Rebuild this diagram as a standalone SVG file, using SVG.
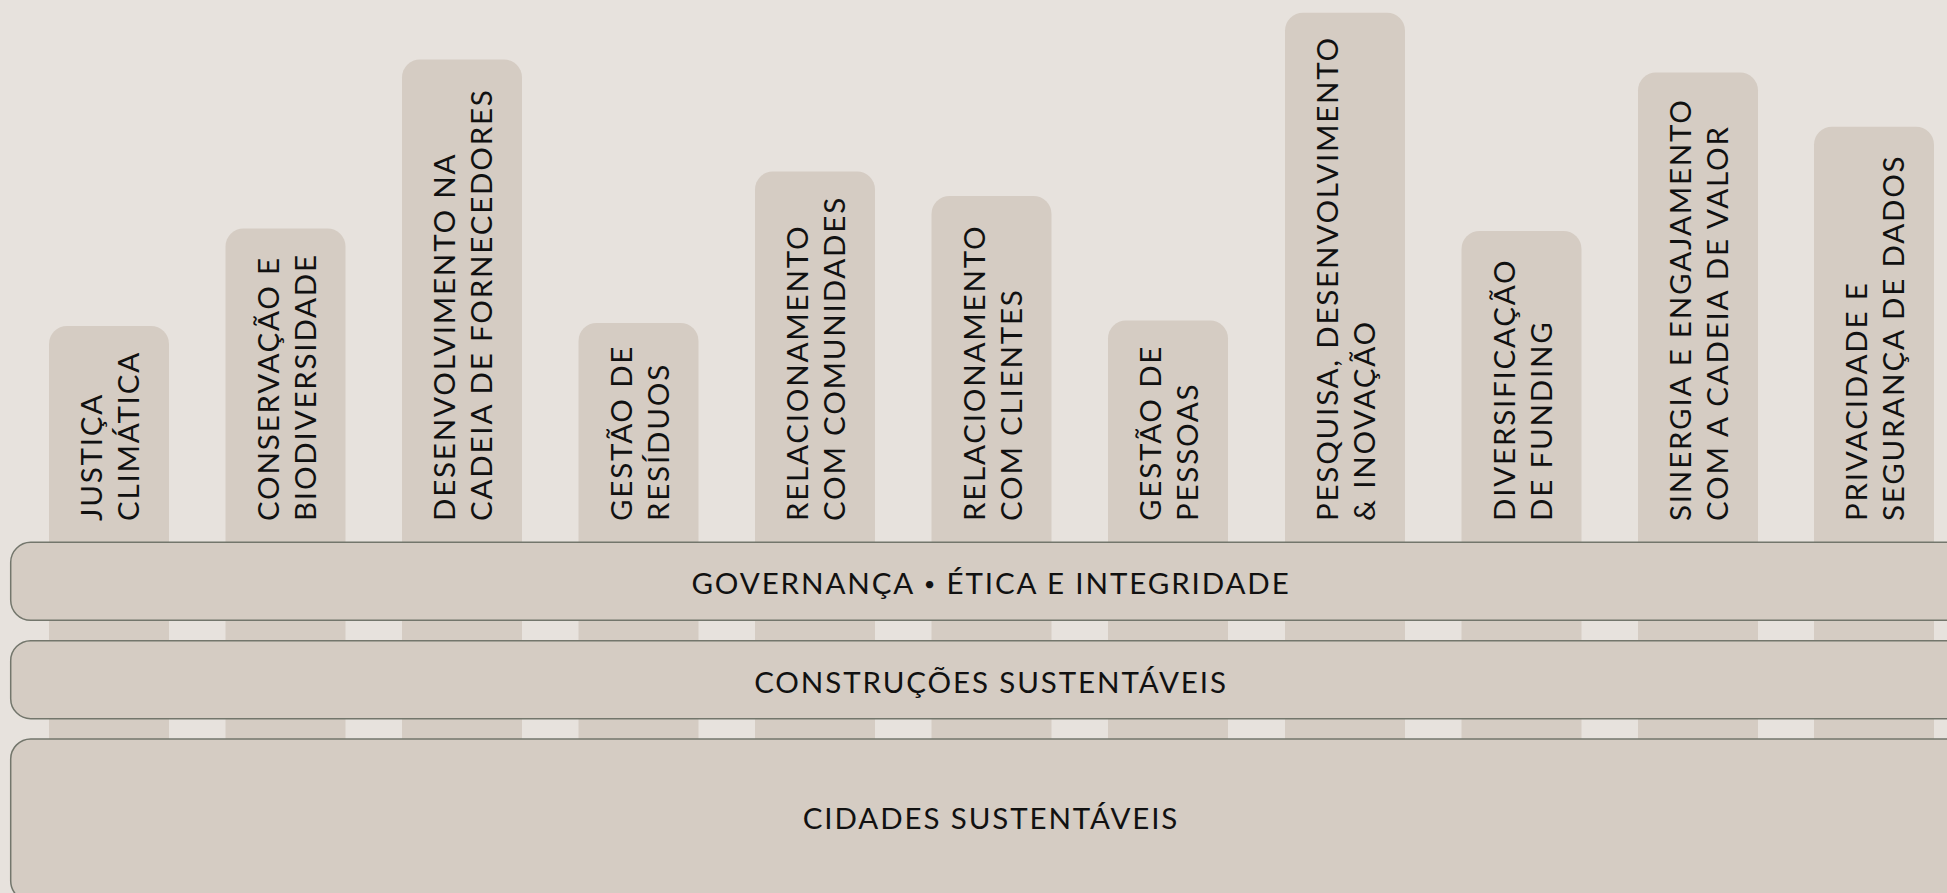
<svg xmlns="http://www.w3.org/2000/svg" width="1947" height="893" viewBox="0 0 1947 893">
<style>
.bg{fill:#E7E2DD}
.pillar{fill:#D5CCC3}
.band{fill:#D5CCC3;stroke:#73766C;stroke-width:1.5}
.t{font-family:Lato,"Noto Sans",sans-serif;font-size:29.5px;fill:#111;letter-spacing:1.8px}
.bt{font-family:Lato,"Noto Sans",sans-serif;font-size:29.5px;fill:#111;text-anchor:middle;letter-spacing:1.9px}
.dot{font-size:20px}
</style>
<rect class="bg" x="0" y="0" width="1947" height="893"/>
<g id="pillars">
<g id="p1"><rect class="pillar" x="49" y="326" width="120" height="600" rx="18"/><g transform="translate(109,521) rotate(-90)"><text class="t" x="0" y="-7">JUSTIÇA</text><text class="t" x="0" y="30">CLIMÁTICA</text></g></g>
<g id="p2"><rect class="pillar" x="225.5" y="228.5" width="120" height="700" rx="18"/><g transform="translate(285.5,521) rotate(-90)"><text class="t" x="0" y="-7">CONSERVAÇÃO E</text><text class="t" x="0" y="30">BIODIVERSIDADE</text></g></g>
<g id="p3"><rect class="pillar" x="402" y="59.5" width="120" height="900" rx="18"/><g transform="translate(462,521) rotate(-90)"><text class="t" x="0" y="-7">DESENVOLVIMENTO NA</text><text class="t" x="0" y="30">CADEIA DE FORNECEDORES</text></g></g>
<g id="p4"><rect class="pillar" x="578.5" y="323" width="120" height="600" rx="18"/><g transform="translate(638.5,521) rotate(-90)"><text class="t" x="0" y="-7">GESTÃO DE</text><text class="t" x="0" y="30">RESÍDUOS</text></g></g>
<g id="p5"><rect class="pillar" x="755" y="171.5" width="120" height="800" rx="18"/><g transform="translate(815,521) rotate(-90)"><text class="t" x="0" y="-7">RELACIONAMENTO</text><text class="t" x="0" y="30">COM COMUNIDADES</text></g></g>
<g id="p6"><rect class="pillar" x="931.5" y="196" width="120" height="800" rx="18"/><g transform="translate(991.5,521) rotate(-90)"><text class="t" x="0" y="-7">RELACIONAMENTO</text><text class="t" x="0" y="30">COM CLIENTES</text></g></g>
<g id="p7"><rect class="pillar" x="1108" y="320.5" width="120" height="600" rx="18"/><g transform="translate(1168,521) rotate(-90)"><text class="t" x="0" y="-7">GESTÃO DE</text><text class="t" x="0" y="30">PESSOAS</text></g></g>
<g id="p8"><rect class="pillar" x="1285" y="12.7" width="120" height="900" rx="18"/><g transform="translate(1345,521) rotate(-90)"><text class="t" x="0" y="-7">PESQUISA, DESENVOLVIMENTO</text><text class="t" x="0" y="30">&amp; INOVAÇÃO</text></g></g>
<g id="p9"><rect class="pillar" x="1461.5" y="231" width="120" height="700" rx="18"/><g transform="translate(1521.5,521) rotate(-90)"><text class="t" x="0" y="-7">DIVERSIFICAÇÃO</text><text class="t" x="0" y="30">DE FUNDING</text></g></g>
<g id="p10"><rect class="pillar" x="1638" y="72.5" width="120" height="900" rx="18"/><g transform="translate(1698,521) rotate(-90)"><text class="t" x="0" y="-7">SINERGIA E ENGAJAMENTO</text><text class="t" x="0" y="30">COM A CADEIA DE VALOR</text></g></g>
<g id="p11"><rect class="pillar" x="1814" y="126.7" width="120" height="800" rx="18"/><g transform="translate(1874,521) rotate(-90)"><text class="t" x="0" y="-7">PRIVACIDADE E</text><text class="t" x="0" y="30">SEGURANÇA DE DADOS</text></g></g>
</g>
<g id="bands">
<g id="b1"><rect class="band" x="10.7" y="542.3" width="1960" height="78" rx="20"/><text class="bt" x="991" y="594.3">GOVERNANÇA <tspan class="dot" dy="-3">•</tspan><tspan dy="3"> ÉTICA E INTEGRIDADE</tspan></text></g>
<g id="b2"><rect class="band" x="10.7" y="640.7" width="1960" height="78" rx="20"/><text class="bt" x="991" y="692.7">CONSTRUÇÕES SUSTENTÁVEIS</text></g>
<g id="b3"><rect class="band" x="10.7" y="739" width="1960" height="162" rx="20"/><text class="bt" x="991" y="829.3">CIDADES SUSTENTÁVEIS</text></g>
</g>
<g id="connectors"/>
</svg>
